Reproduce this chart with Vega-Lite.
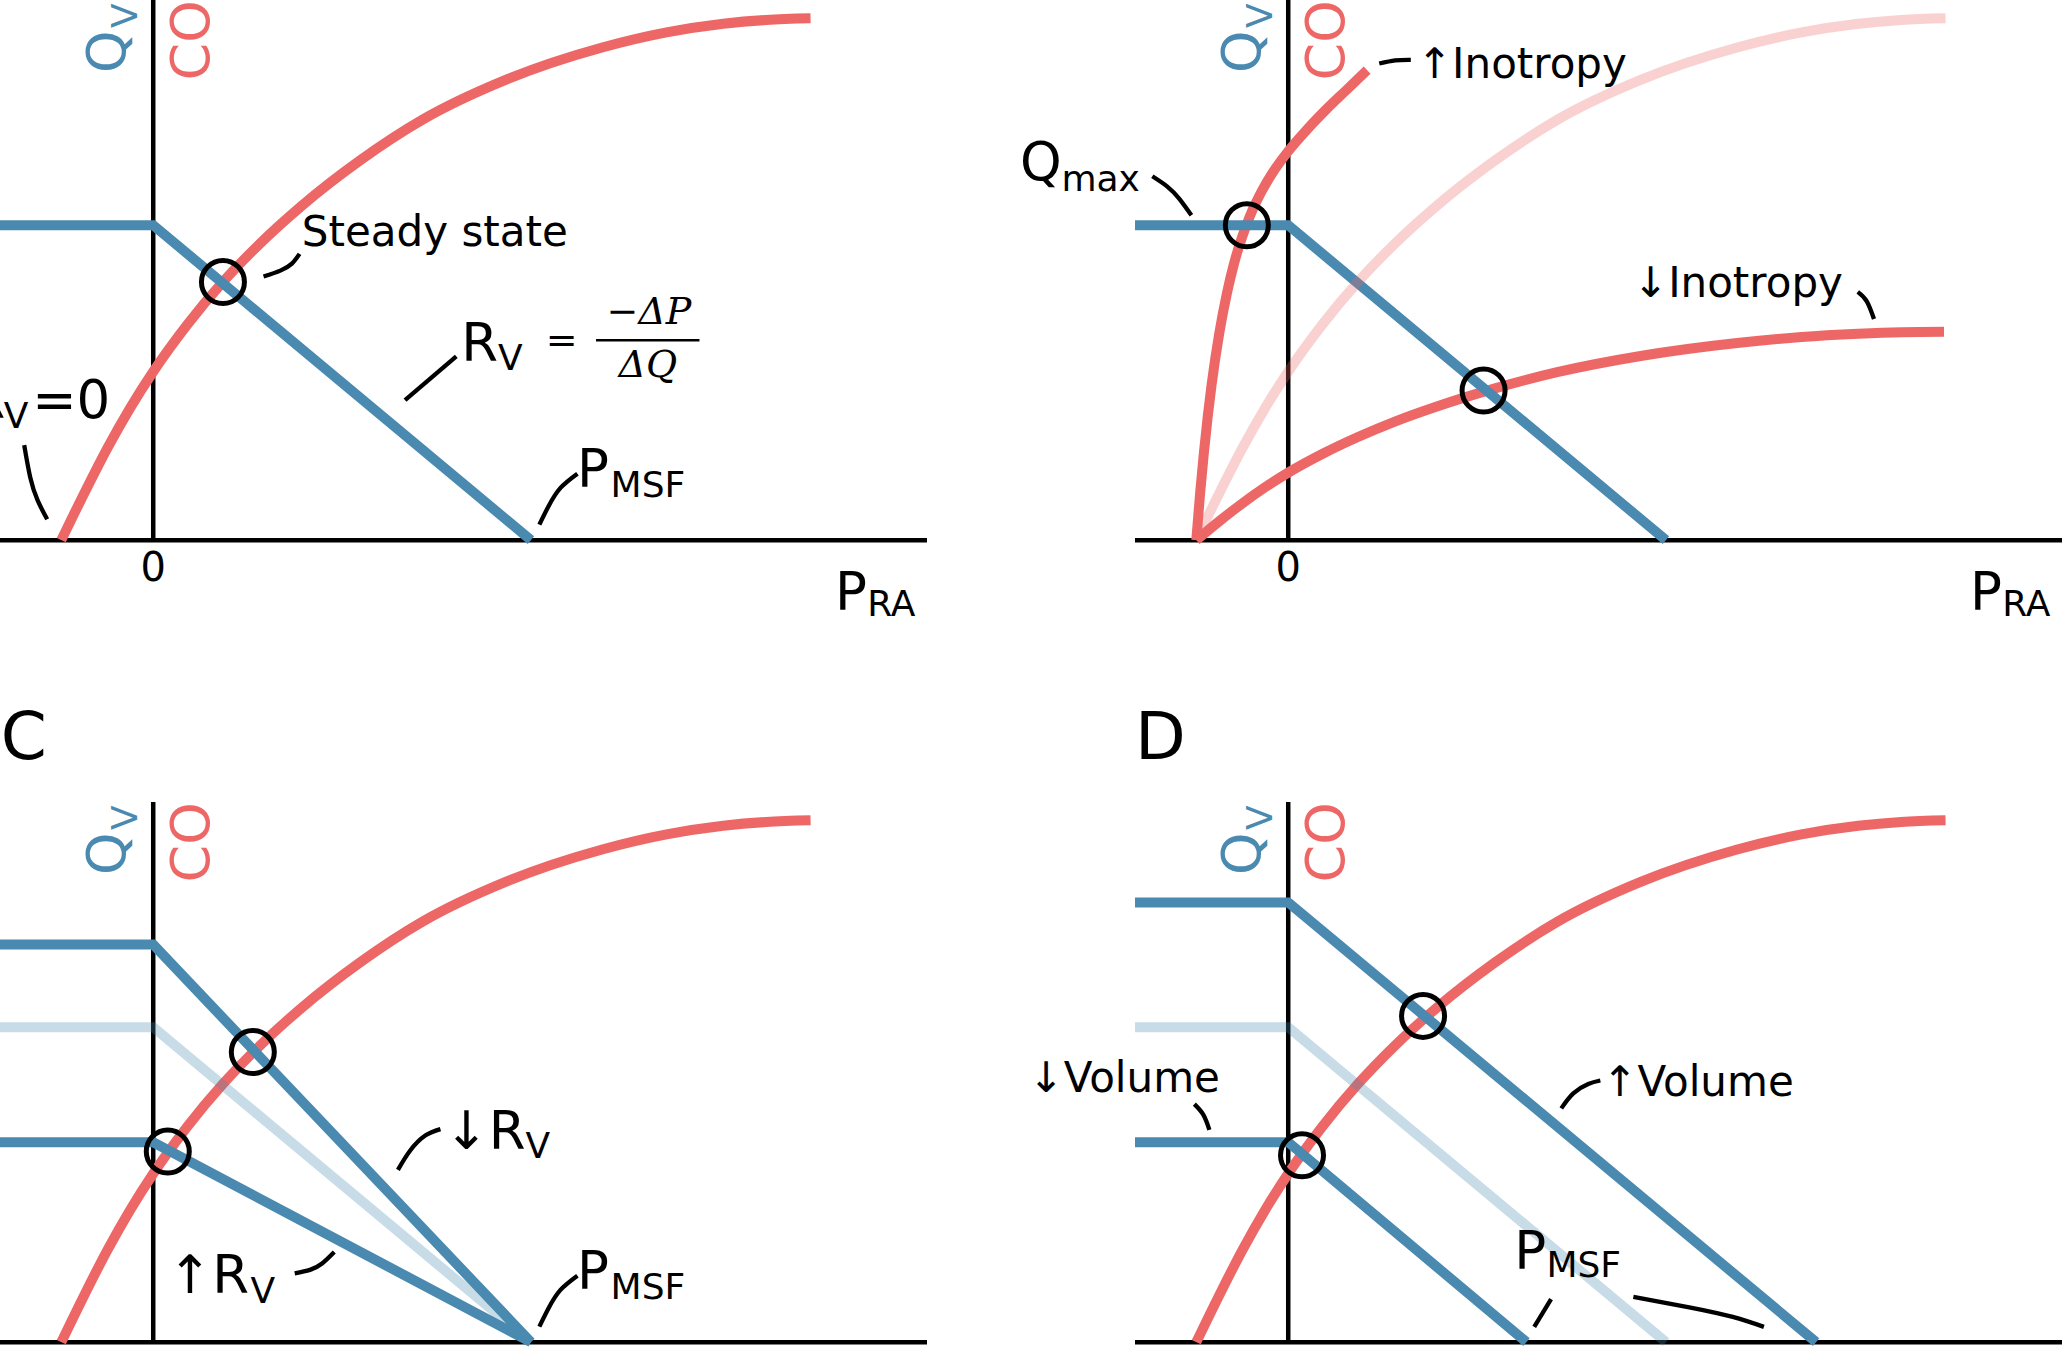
{
  "$schema": "https://vega.github.io/schema/vega-lite/v6.json",
  "padding": 0,
  "background": "white",
  "config": {"view": {"stroke": null}},
  "bounds": "flush",
  "columns": 2,
  "spacing": {"row": 257, "column": 208},
  "datasets": {
    "axes": [
      {"panel": "A", "x": -2, "y": 0, "x2": 10.1, "y2": 0},
      {"panel": "A", "x": 0, "y": 0, "x2": 0, "y2": 10},
      {"panel": "B", "x": -2, "y": 0, "x2": 10.1, "y2": 0},
      {"panel": "B", "x": 0, "y": 0, "x2": 0, "y2": 10},
      {"panel": "C", "x": -2, "y": 0, "x2": 10.1, "y2": 0},
      {"panel": "C", "x": 0, "y": 0, "x2": 0, "y2": 10},
      {"panel": "D", "x": -2, "y": 0, "x2": 10.1, "y2": 0},
      {"panel": "D", "x": 0, "y": 0, "x2": 0, "y2": 10}
    ],
    "frac": [{"x": 5.78, "y": 3.7, "x2": 7.13, "y2": 3.7}],
    "co_std": [
      {"i": 0, "x": -1.2, "y": 0}, {"i": 1, "x": -0.9, "y": 0.87}, {"i": 2, "x": -0.6, "y": 1.7},
      {"i": 3, "x": -0.3, "y": 2.45}, {"i": 4, "x": 0, "y": 3.12}, {"i": 5, "x": 0.45, "y": 4.0},
      {"i": 6, "x": 0.91, "y": 4.78}, {"i": 7, "x": 1.4, "y": 5.5}, {"i": 8, "x": 1.93, "y": 6.18},
      {"i": 9, "x": 2.7, "y": 7.03}, {"i": 10, "x": 3.51, "y": 7.78}, {"i": 11, "x": 4.6, "y": 8.52},
      {"i": 12, "x": 5.86, "y": 9.12}, {"i": 13, "x": 6.7, "y": 9.4}, {"i": 14, "x": 7.44, "y": 9.56},
      {"i": 15, "x": 8.0, "y": 9.63}, {"i": 16, "x": 8.58, "y": 9.66}
    ],
    "vr_std": [
      {"i": 0, "x": -2, "y": 5.83}, {"i": 1, "x": 0, "y": 5.83}, {"i": 2, "x": 4.93, "y": 0}
    ],
    "co_var": [
      {"panel": "B", "id": "up", "i": 0, "x": -1.2, "y": 0},
      {"panel": "B", "id": "up", "i": 1, "x": -1.15, "y": 0.87},
      {"panel": "B", "id": "up", "i": 2, "x": -1.1, "y": 1.63},
      {"panel": "B", "id": "up", "i": 3, "x": -1.05, "y": 2.3},
      {"panel": "B", "id": "up", "i": 4, "x": -1.0, "y": 2.88},
      {"panel": "B", "id": "up", "i": 5, "x": -0.9, "y": 3.83},
      {"panel": "B", "id": "up", "i": 6, "x": -0.8, "y": 4.57},
      {"panel": "B", "id": "up", "i": 7, "x": -0.7, "y": 5.16},
      {"panel": "B", "id": "up", "i": 8, "x": -0.6, "y": 5.62},
      {"panel": "B", "id": "up", "i": 9, "x": -0.5, "y": 6.0},
      {"panel": "B", "id": "up", "i": 10, "x": -0.35, "y": 6.45},
      {"panel": "B", "id": "up", "i": 11, "x": -0.2, "y": 6.81},
      {"panel": "B", "id": "up", "i": 12, "x": 0, "y": 7.2},
      {"panel": "B", "id": "up", "i": 13, "x": 0.25, "y": 7.61},
      {"panel": "B", "id": "up", "i": 14, "x": 0.5, "y": 7.98},
      {"panel": "B", "id": "up", "i": 15, "x": 0.75, "y": 8.32},
      {"panel": "B", "id": "up", "i": 16, "x": 1.03, "y": 8.7},
      {"panel": "B", "id": "down", "i": 0, "x": -1.2, "y": 0},
      {"panel": "B", "id": "down", "i": 1, "x": -0.9, "y": 0.35},
      {"panel": "B", "id": "down", "i": 2, "x": -0.6, "y": 0.68},
      {"panel": "B", "id": "down", "i": 3, "x": -0.3, "y": 0.98},
      {"panel": "B", "id": "down", "i": 4, "x": 0, "y": 1.25},
      {"panel": "B", "id": "down", "i": 5, "x": 0.45, "y": 1.6},
      {"panel": "B", "id": "down", "i": 6, "x": 0.91, "y": 1.91},
      {"panel": "B", "id": "down", "i": 7, "x": 1.4, "y": 2.2},
      {"panel": "B", "id": "down", "i": 8, "x": 1.93, "y": 2.47},
      {"panel": "B", "id": "down", "i": 9, "x": 2.7, "y": 2.81},
      {"panel": "B", "id": "down", "i": 10, "x": 3.51, "y": 3.11},
      {"panel": "B", "id": "down", "i": 11, "x": 4.6, "y": 3.41},
      {"panel": "B", "id": "down", "i": 12, "x": 5.86, "y": 3.65},
      {"panel": "B", "id": "down", "i": 13, "x": 6.7, "y": 3.76},
      {"panel": "B", "id": "down", "i": 14, "x": 7.44, "y": 3.82},
      {"panel": "B", "id": "down", "i": 15, "x": 8.0, "y": 3.85},
      {"panel": "B", "id": "down", "i": 16, "x": 8.56, "y": 3.86}
    ],
    "vr_var": [
      {"panel": "C", "id": "hi", "i": 0, "x": -2, "y": 7.36},
      {"panel": "C", "id": "hi", "i": 1, "x": 0, "y": 7.36},
      {"panel": "C", "id": "hi", "i": 2, "x": 4.93, "y": 0},
      {"panel": "C", "id": "lo", "i": 0, "x": -2, "y": 3.7},
      {"panel": "C", "id": "lo", "i": 1, "x": 0, "y": 3.7},
      {"panel": "C", "id": "lo", "i": 2, "x": 4.93, "y": 0},
      {"panel": "D", "id": "hi", "i": 0, "x": -2, "y": 8.14},
      {"panel": "D", "id": "hi", "i": 1, "x": 0, "y": 8.14},
      {"panel": "D", "id": "hi", "i": 2, "x": 6.89, "y": 0},
      {"panel": "D", "id": "lo", "i": 0, "x": -2, "y": 3.7},
      {"panel": "D", "id": "lo", "i": 1, "x": 0, "y": 3.7},
      {"panel": "D", "id": "lo", "i": 2, "x": 3.11, "y": 0}
    ],
    "conn": [
      {"panel": "A", "id": "a1", "i": 0, "x": 1.44, "y": 4.88},
      {"panel": "A", "id": "a1", "i": 1, "x": 1.66, "y": 4.99},
      {"panel": "A", "id": "a1", "i": 2, "x": 1.81, "y": 5.12},
      {"panel": "A", "id": "a1", "i": 3, "x": 1.91, "y": 5.3},
      {"panel": "A", "id": "a2", "i": 0, "x": 3.287, "y": 2.593},
      {"panel": "A", "id": "a2", "i": 1, "x": 3.956, "y": 3.402},
      {"panel": "A", "id": "a3", "i": 0, "x": 5.04, "y": 0.287},
      {"panel": "A", "id": "a3", "i": 1, "x": 5.16, "y": 0.628},
      {"panel": "A", "id": "a3", "i": 2, "x": 5.316, "y": 0.967},
      {"panel": "A", "id": "a3", "i": 3, "x": 5.537, "y": 1.231},
      {"panel": "A", "id": "a4", "i": 0, "x": -1.684, "y": 1.76},
      {"panel": "A", "id": "a4", "i": 1, "x": -1.605, "y": 1.16},
      {"panel": "A", "id": "a4", "i": 2, "x": -1.51, "y": 0.74},
      {"panel": "A", "id": "a4", "i": 3, "x": -1.384, "y": 0.385},
      {"panel": "B", "id": "b1", "i": 0, "x": -1.774, "y": 6.737},
      {"panel": "B", "id": "b1", "i": 1, "x": -1.578, "y": 6.546},
      {"panel": "B", "id": "b1", "i": 2, "x": -1.421, "y": 6.319},
      {"panel": "B", "id": "b1", "i": 3, "x": -1.264, "y": 6.015},
      {"panel": "B", "id": "b2", "i": 0, "x": 1.188, "y": 8.824},
      {"panel": "B", "id": "b2", "i": 1, "x": 1.397, "y": 8.883},
      {"panel": "B", "id": "b2", "i": 2, "x": 1.6, "y": 8.893},
      {"panel": "B", "id": "b3", "i": 0, "x": 7.434, "y": 4.596},
      {"panel": "B", "id": "b3", "i": 1, "x": 7.552, "y": 4.422},
      {"panel": "B", "id": "b3", "i": 2, "x": 7.646, "y": 4.094},
      {"panel": "C", "id": "c1", "i": 0, "x": 3.194, "y": 3.19},
      {"panel": "C", "id": "c1", "i": 1, "x": 3.352, "y": 3.544},
      {"panel": "C", "id": "c1", "i": 2, "x": 3.551, "y": 3.824},
      {"panel": "C", "id": "c1", "i": 3, "x": 3.749, "y": 3.943},
      {"panel": "C", "id": "c2", "i": 0, "x": 1.847, "y": 1.274},
      {"panel": "C", "id": "c2", "i": 1, "x": 2.046, "y": 1.337},
      {"panel": "C", "id": "c2", "i": 2, "x": 2.204, "y": 1.456},
      {"panel": "C", "id": "c2", "i": 3, "x": 2.363, "y": 1.669},
      {"panel": "C", "id": "c3", "i": 0, "x": 5.04, "y": 0.287},
      {"panel": "C", "id": "c3", "i": 1, "x": 5.16, "y": 0.628},
      {"panel": "C", "id": "c3", "i": 2, "x": 5.316, "y": 0.967},
      {"panel": "C", "id": "c3", "i": 3, "x": 5.537, "y": 1.231},
      {"panel": "D", "id": "d1", "i": 0, "x": -1.225, "y": 4.407},
      {"panel": "D", "id": "d1", "i": 1, "x": -1.107, "y": 4.209},
      {"panel": "D", "id": "d1", "i": 2, "x": -1.029, "y": 3.931},
      {"panel": "D", "id": "d2", "i": 0, "x": 3.564, "y": 4.328},
      {"panel": "D", "id": "d2", "i": 1, "x": 3.721, "y": 4.606},
      {"panel": "D", "id": "d2", "i": 2, "x": 3.916, "y": 4.78},
      {"panel": "D", "id": "d2", "i": 3, "x": 4.074, "y": 4.844},
      {"panel": "D", "id": "d3", "i": 0, "x": 3.211, "y": 0.283},
      {"panel": "D", "id": "d3", "i": 1, "x": 3.431, "y": 0.798},
      {"panel": "D", "id": "d4", "i": 0, "x": 4.505, "y": 0.839},
      {"panel": "D", "id": "d4", "i": 1, "x": 5.252, "y": 0.641},
      {"panel": "D", "id": "d4", "i": 2, "x": 5.802, "y": 0.467},
      {"panel": "D", "id": "d4", "i": 3, "x": 6.209, "y": 0.283}
    ],
    "circles": [
      {"panel": "A", "x": 0.91, "y": 4.78},
      {"panel": "B", "x": -0.54, "y": 5.83},
      {"panel": "B", "x": 2.55, "y": 2.77},
      {"panel": "C", "x": 1.3, "y": 5.37},
      {"panel": "C", "x": 0.19, "y": 3.53},
      {"panel": "D", "x": 1.76, "y": 6.04},
      {"panel": "D", "x": 0.18, "y": 3.46}
    ],
    "t_big": [
      {"panel": "A", "x": 4.02, "y": 3.31, "text": "R"},
      {"panel": "A", "x": 5.53, "y": 0.98, "text": "P"},
      {"panel": "A", "x": 8.9, "y": -1.3, "text": "P"},
      {"panel": "A", "x": -1.58, "y": 2.26, "text": "=0"},
      {"panel": "B", "x": -3.5, "y": 6.67, "text": "Q"},
      {"panel": "B", "x": 8.9, "y": -1.3, "text": "P"},
      {"panel": "C", "x": 3.8, "y": 3.58, "text": "↓R"},
      {"panel": "C", "x": 0.19, "y": 0.907, "text": "↑R"},
      {"panel": "C", "x": 5.53, "y": 0.98, "text": "P"},
      {"panel": "D", "x": 2.95, "y": 1.36, "text": "P"}
    ],
    "t_clip": [
      {"panel": "A", "x": -2.41, "y": 2.26, "text": "R"}
    ],
    "t_sub": [
      {"panel": "A", "x": 4.5, "y": 3.15, "text": "V"},
      {"panel": "A", "x": 5.97, "y": 0.8, "text": "MSF"},
      {"panel": "A", "x": 9.32, "y": -1.41, "text": "RA"},
      {"panel": "A", "x": -1.95, "y": 2.07, "text": "V"},
      {"panel": "B", "x": -2.96, "y": 6.47, "text": "max"},
      {"panel": "B", "x": 9.32, "y": -1.41, "text": "RA"},
      {"panel": "C", "x": 4.86, "y": 3.41, "text": "V"},
      {"panel": "C", "x": 1.27, "y": 0.72, "text": "V"},
      {"panel": "C", "x": 5.97, "y": 0.8, "text": "MSF"},
      {"panel": "D", "x": 3.37, "y": 1.2, "text": "MSF"}
    ],
    "t_mid": [
      {"panel": "A", "x": 1.94, "y": 5.45, "text": "Steady state"},
      {"panel": "B", "x": 1.68, "y": 8.56, "text": "↑Inotropy"},
      {"panel": "B", "x": 4.5, "y": 4.5, "text": "↓Inotropy"},
      {"panel": "D", "x": -3.39, "y": 4.63, "text": "↓Volume"},
      {"panel": "D", "x": 4.1, "y": 4.56, "text": "↑Volume"}
    ],
    "t_tick": [{"x": 0, "y": -0.76, "text": "0"}],
    "t_math": [
      {"x": 5.33, "y": 3.46, "text": "="},
      {"x": 6.47, "y": 4.0, "text": "−ΔP"},
      {"x": 6.455, "y": 3.02, "text": "ΔQ"}
    ],
    "t_letter": [
      {"panel": "C", "x": -1.99, "y": 10.8, "text": "C"},
      {"panel": "D", "x": -2.0, "y": 10.8, "text": "D"}
    ],
    "t_rot": [
      {"x": -0.366, "y": 8.65, "text": "Q"},
      {"x": 0.73, "y": 8.51, "text": "CO"}
    ],
    "t_rotsub": [{"x": -0.209, "y": 9.48, "text": "V"}]
  },
  "concat": [
    {
      "width": 927, "height": 545,
      "encoding": {
        "x": {"field": "x", "type": "quantitative", "scale": {"domain": [-2, 10.1], "nice": false, "zero": false}, "axis": null},
        "y": {"field": "y", "type": "quantitative", "scale": {"domain": [-0.09, 10], "nice": false, "zero": false}, "axis": null}
      },
      "layer": [
        {"data": {"name": "axes"}, "transform": [{"filter": "datum.panel === 'A'"}], "mark": {"type": "rule", "color": "black", "strokeWidth": 4.5, "clip": true}, "encoding": {"x2": {"field": "x2"}, "y2": {"field": "y2"}}},
        {"data": {"name": "co_std"}, "mark": {"type": "line", "color": "#ee6767", "strokeWidth": 10, "interpolate": "monotone", "clip": true}, "encoding": {"order": {"field": "i", "type": "quantitative"}}},
        {"data": {"name": "vr_std"}, "mark": {"type": "line", "color": "#4a8ab0", "strokeWidth": 10, "clip": true}, "encoding": {"order": {"field": "i", "type": "quantitative"}}},
        {"data": {"name": "conn"}, "transform": [{"filter": "datum.panel === 'A'"}], "mark": {"type": "line", "color": "black", "strokeWidth": 4.3, "interpolate": "natural", "clip": true}, "encoding": {"detail": {"field": "id"}, "order": {"field": "i", "type": "quantitative"}}},
        {"data": {"name": "circles"}, "transform": [{"filter": "datum.panel === 'A'"}], "mark": {"type": "point", "shape": "circle", "filled": false, "color": "black", "strokeWidth": 5, "size": 1850, "opacity": 1}},
        {"data": {"name": "frac"}, "mark": {"type": "rule", "color": "black", "strokeWidth": 2.5, "clip": true}, "encoding": {"x2": {"field": "x2"}, "y2": {"field": "y2"}}},
        {"data": {"name": "t_math"}, "mark": {"type": "text", "font": "DejaVu Serif", "fontStyle": "italic", "fontSize": 38, "align": "center", "baseline": "alphabetic", "color": "black"}, "encoding": {"text": {"field": "text"}}},
        {"data": {"name": "t_big"}, "transform": [{"filter": "datum.panel === 'A'"}], "mark": {"type": "text", "font": "DejaVu Sans", "fontSize": 53, "align": "left", "baseline": "alphabetic", "color": "black"}, "encoding": {"text": {"field": "text"}}},
        {"data": {"name": "t_clip"}, "mark": {"type": "text", "font": "DejaVu Sans", "fontSize": 53, "align": "left", "baseline": "alphabetic", "color": "black", "clip": true}, "encoding": {"text": {"field": "text"}}},
        {"data": {"name": "t_sub"}, "transform": [{"filter": "datum.panel === 'A'"}], "mark": {"type": "text", "font": "DejaVu Sans", "fontSize": 36, "align": "left", "baseline": "alphabetic", "color": "black"}, "encoding": {"text": {"field": "text"}}},
        {"data": {"name": "t_mid"}, "transform": [{"filter": "datum.panel === 'A'"}], "mark": {"type": "text", "font": "DejaVu Sans", "fontSize": 42, "align": "left", "baseline": "alphabetic", "color": "black"}, "encoding": {"text": {"field": "text"}}},
        {"data": {"name": "t_tick"}, "mark": {"type": "text", "font": "DejaVu Sans", "fontSize": 40, "align": "center", "baseline": "alphabetic", "color": "black"}, "encoding": {"text": {"field": "text"}}},
        {"data": {"name": "t_rot"}, "mark": {"type": "text", "font": "DejaVu Sans", "fontSize": 54, "angle": 270, "align": "left", "baseline": "alphabetic", "clip": true}, "encoding": {"text": {"field": "text"}, "color": {"field": "text", "type": "nominal", "scale": {"domain": ["Q", "CO"], "range": ["#4a8ab0", "#ee6767"]}, "legend": null}}},
        {"data": {"name": "t_rotsub"}, "mark": {"type": "text", "font": "DejaVu Sans", "fontSize": 36, "angle": 270, "align": "left", "baseline": "alphabetic", "color": "#4a8ab0", "clip": true}, "encoding": {"text": {"field": "text"}}}
      ]
    },
    {
      "width": 927, "height": 545,
      "encoding": {
        "x": {"field": "x", "type": "quantitative", "scale": {"domain": [-2, 10.1], "nice": false, "zero": false}, "axis": null},
        "y": {"field": "y", "type": "quantitative", "scale": {"domain": [-0.09, 10], "nice": false, "zero": false}, "axis": null}
      },
      "layer": [
        {"data": {"name": "axes"}, "transform": [{"filter": "datum.panel === 'B'"}], "mark": {"type": "rule", "color": "black", "strokeWidth": 4.5, "clip": true}, "encoding": {"x2": {"field": "x2"}, "y2": {"field": "y2"}}},
        {"data": {"name": "co_var"}, "transform": [{"filter": "datum.panel === 'B'"}], "mark": {"type": "line", "color": "#ee6767", "strokeWidth": 10, "interpolate": "monotone", "clip": true}, "encoding": {"detail": {"field": "id"}, "order": {"field": "i", "type": "quantitative"}}},
        {"data": {"name": "vr_std"}, "mark": {"type": "line", "color": "#4a8ab0", "strokeWidth": 10, "clip": true}, "encoding": {"order": {"field": "i", "type": "quantitative"}}},
        {"data": {"name": "co_std"}, "mark": {"type": "line", "color": "#ee6767", "opacity": 0.3, "strokeWidth": 10, "interpolate": "monotone", "clip": true}, "encoding": {"order": {"field": "i", "type": "quantitative"}}},
        {"data": {"name": "conn"}, "transform": [{"filter": "datum.panel === 'B'"}], "mark": {"type": "line", "color": "black", "strokeWidth": 4.3, "interpolate": "natural", "clip": true}, "encoding": {"detail": {"field": "id"}, "order": {"field": "i", "type": "quantitative"}}},
        {"data": {"name": "circles"}, "transform": [{"filter": "datum.panel === 'B'"}], "mark": {"type": "point", "shape": "circle", "filled": false, "color": "black", "strokeWidth": 5, "size": 1850, "opacity": 1}},
        {"data": {"name": "t_big"}, "transform": [{"filter": "datum.panel === 'B'"}], "mark": {"type": "text", "font": "DejaVu Sans", "fontSize": 53, "align": "left", "baseline": "alphabetic", "color": "black"}, "encoding": {"text": {"field": "text"}}},
        {"data": {"name": "t_sub"}, "transform": [{"filter": "datum.panel === 'B'"}], "mark": {"type": "text", "font": "DejaVu Sans", "fontSize": 36, "align": "left", "baseline": "alphabetic", "color": "black"}, "encoding": {"text": {"field": "text"}}},
        {"data": {"name": "t_mid"}, "transform": [{"filter": "datum.panel === 'B'"}], "mark": {"type": "text", "font": "DejaVu Sans", "fontSize": 42, "align": "left", "baseline": "alphabetic", "color": "black"}, "encoding": {"text": {"field": "text"}}},
        {"data": {"name": "t_tick"}, "mark": {"type": "text", "font": "DejaVu Sans", "fontSize": 40, "align": "center", "baseline": "alphabetic", "color": "black"}, "encoding": {"text": {"field": "text"}}},
        {"data": {"name": "t_rot"}, "mark": {"type": "text", "font": "DejaVu Sans", "fontSize": 54, "angle": 270, "align": "left", "baseline": "alphabetic", "clip": true}, "encoding": {"text": {"field": "text"}, "color": {"field": "text", "type": "nominal", "scale": {"domain": ["Q", "CO"], "range": ["#4a8ab0", "#ee6767"]}, "legend": null}}},
        {"data": {"name": "t_rotsub"}, "mark": {"type": "text", "font": "DejaVu Sans", "fontSize": 36, "angle": 270, "align": "left", "baseline": "alphabetic", "color": "#4a8ab0", "clip": true}, "encoding": {"text": {"field": "text"}}}
      ]
    },
    {
      "width": 927, "height": 545,
      "encoding": {
        "x": {"field": "x", "type": "quantitative", "scale": {"domain": [-2, 10.1], "nice": false, "zero": false}, "axis": null},
        "y": {"field": "y", "type": "quantitative", "scale": {"domain": [-0.09, 10], "nice": false, "zero": false}, "axis": null}
      },
      "layer": [
        {"data": {"name": "axes"}, "transform": [{"filter": "datum.panel === 'C'"}], "mark": {"type": "rule", "color": "black", "strokeWidth": 4.5, "clip": true}, "encoding": {"x2": {"field": "x2"}, "y2": {"field": "y2"}}},
        {"data": {"name": "co_std"}, "mark": {"type": "line", "color": "#ee6767", "strokeWidth": 10, "interpolate": "monotone", "clip": true}, "encoding": {"order": {"field": "i", "type": "quantitative"}}},
        {"data": {"name": "vr_var"}, "transform": [{"filter": "datum.panel === 'C'"}], "mark": {"type": "line", "color": "#4a8ab0", "strokeWidth": 10, "clip": true}, "encoding": {"detail": {"field": "id"}, "order": {"field": "i", "type": "quantitative"}}},
        {"data": {"name": "vr_std"}, "mark": {"type": "line", "color": "#4a8ab0", "opacity": 0.3, "strokeWidth": 10, "clip": true}, "encoding": {"order": {"field": "i", "type": "quantitative"}}},
        {"data": {"name": "conn"}, "transform": [{"filter": "datum.panel === 'C'"}], "mark": {"type": "line", "color": "black", "strokeWidth": 4.3, "interpolate": "natural", "clip": true}, "encoding": {"detail": {"field": "id"}, "order": {"field": "i", "type": "quantitative"}}},
        {"data": {"name": "circles"}, "transform": [{"filter": "datum.panel === 'C'"}], "mark": {"type": "point", "shape": "circle", "filled": false, "color": "black", "strokeWidth": 5, "size": 1850, "opacity": 1}},
        {"data": {"name": "t_big"}, "transform": [{"filter": "datum.panel === 'C'"}], "mark": {"type": "text", "font": "DejaVu Sans", "fontSize": 53, "align": "left", "baseline": "alphabetic", "color": "black"}, "encoding": {"text": {"field": "text"}}},
        {"data": {"name": "t_sub"}, "transform": [{"filter": "datum.panel === 'C'"}], "mark": {"type": "text", "font": "DejaVu Sans", "fontSize": 36, "align": "left", "baseline": "alphabetic", "color": "black"}, "encoding": {"text": {"field": "text"}}},
        {"data": {"name": "t_letter"}, "transform": [{"filter": "datum.panel === 'C'"}], "mark": {"type": "text", "font": "DejaVu Sans", "fontSize": 66, "align": "left", "baseline": "alphabetic", "color": "black"}, "encoding": {"text": {"field": "text"}}},
        {"data": {"name": "t_rot"}, "mark": {"type": "text", "font": "DejaVu Sans", "fontSize": 54, "angle": 270, "align": "left", "baseline": "alphabetic", "clip": true}, "encoding": {"text": {"field": "text"}, "color": {"field": "text", "type": "nominal", "scale": {"domain": ["Q", "CO"], "range": ["#4a8ab0", "#ee6767"]}, "legend": null}}},
        {"data": {"name": "t_rotsub"}, "mark": {"type": "text", "font": "DejaVu Sans", "fontSize": 36, "angle": 270, "align": "left", "baseline": "alphabetic", "color": "#4a8ab0", "clip": true}, "encoding": {"text": {"field": "text"}}}
      ]
    },
    {
      "width": 927, "height": 545,
      "encoding": {
        "x": {"field": "x", "type": "quantitative", "scale": {"domain": [-2, 10.1], "nice": false, "zero": false}, "axis": null},
        "y": {"field": "y", "type": "quantitative", "scale": {"domain": [-0.09, 10], "nice": false, "zero": false}, "axis": null}
      },
      "layer": [
        {"data": {"name": "axes"}, "transform": [{"filter": "datum.panel === 'D'"}], "mark": {"type": "rule", "color": "black", "strokeWidth": 4.5, "clip": true}, "encoding": {"x2": {"field": "x2"}, "y2": {"field": "y2"}}},
        {"data": {"name": "co_std"}, "mark": {"type": "line", "color": "#ee6767", "strokeWidth": 10, "interpolate": "monotone", "clip": true}, "encoding": {"order": {"field": "i", "type": "quantitative"}}},
        {"data": {"name": "vr_var"}, "transform": [{"filter": "datum.panel === 'D'"}], "mark": {"type": "line", "color": "#4a8ab0", "strokeWidth": 10, "clip": true}, "encoding": {"detail": {"field": "id"}, "order": {"field": "i", "type": "quantitative"}}},
        {"data": {"name": "vr_std"}, "mark": {"type": "line", "color": "#4a8ab0", "opacity": 0.3, "strokeWidth": 10, "clip": true}, "encoding": {"order": {"field": "i", "type": "quantitative"}}},
        {"data": {"name": "conn"}, "transform": [{"filter": "datum.panel === 'D'"}], "mark": {"type": "line", "color": "black", "strokeWidth": 4.3, "interpolate": "natural", "clip": true}, "encoding": {"detail": {"field": "id"}, "order": {"field": "i", "type": "quantitative"}}},
        {"data": {"name": "circles"}, "transform": [{"filter": "datum.panel === 'D'"}], "mark": {"type": "point", "shape": "circle", "filled": false, "color": "black", "strokeWidth": 5, "size": 1850, "opacity": 1}},
        {"data": {"name": "t_big"}, "transform": [{"filter": "datum.panel === 'D'"}], "mark": {"type": "text", "font": "DejaVu Sans", "fontSize": 53, "align": "left", "baseline": "alphabetic", "color": "black"}, "encoding": {"text": {"field": "text"}}},
        {"data": {"name": "t_sub"}, "transform": [{"filter": "datum.panel === 'D'"}], "mark": {"type": "text", "font": "DejaVu Sans", "fontSize": 36, "align": "left", "baseline": "alphabetic", "color": "black"}, "encoding": {"text": {"field": "text"}}},
        {"data": {"name": "t_mid"}, "transform": [{"filter": "datum.panel === 'D'"}], "mark": {"type": "text", "font": "DejaVu Sans", "fontSize": 42, "align": "left", "baseline": "alphabetic", "color": "black"}, "encoding": {"text": {"field": "text"}}},
        {"data": {"name": "t_letter"}, "transform": [{"filter": "datum.panel === 'D'"}], "mark": {"type": "text", "font": "DejaVu Sans", "fontSize": 66, "align": "left", "baseline": "alphabetic", "color": "black"}, "encoding": {"text": {"field": "text"}}},
        {"data": {"name": "t_rot"}, "mark": {"type": "text", "font": "DejaVu Sans", "fontSize": 54, "angle": 270, "align": "left", "baseline": "alphabetic", "clip": true}, "encoding": {"text": {"field": "text"}, "color": {"field": "text", "type": "nominal", "scale": {"domain": ["Q", "CO"], "range": ["#4a8ab0", "#ee6767"]}, "legend": null}}},
        {"data": {"name": "t_rotsub"}, "mark": {"type": "text", "font": "DejaVu Sans", "fontSize": 36, "angle": 270, "align": "left", "baseline": "alphabetic", "color": "#4a8ab0", "clip": true}, "encoding": {"text": {"field": "text"}}}
      ]
    }
  ]
}
